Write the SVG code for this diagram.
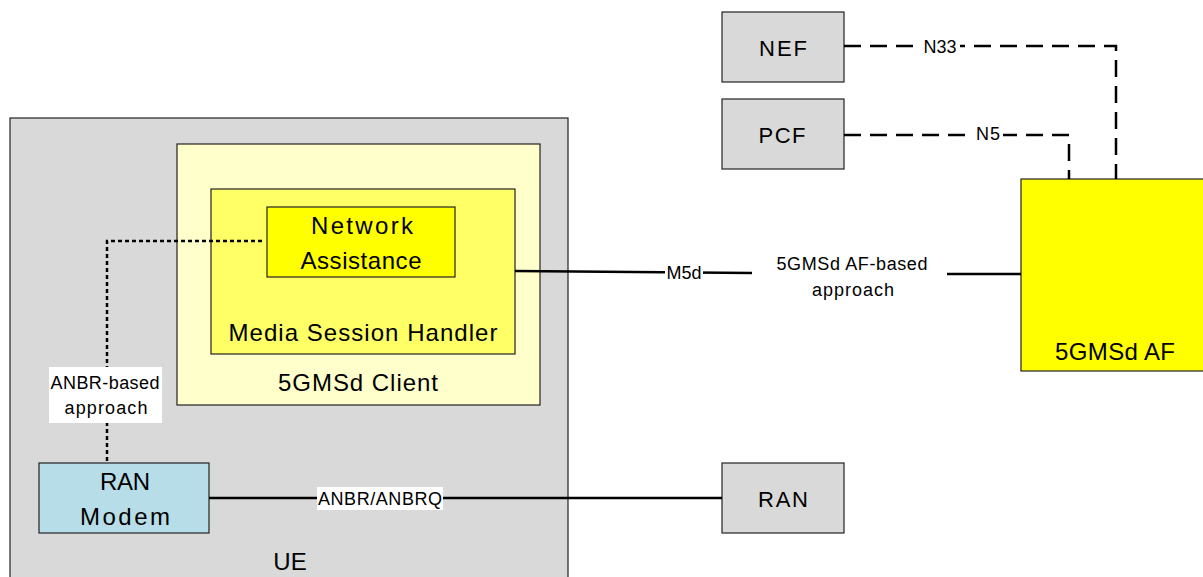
<svg xmlns="http://www.w3.org/2000/svg" width="1203" height="577" viewBox="0 0 1203 577">
<style>
.box{stroke:#222;stroke-width:1.2}
.grey{fill:#d9d9d9}
.t{font-family:"Liberation Sans",Arial,sans-serif;fill:#000;text-anchor:middle}
.big{font-size:24px}
.mid{font-size:22px}
.sm{font-size:18px}
.solid{fill:none;stroke:#000;stroke-width:2.5}
.dash{fill:none;stroke:#000;stroke-width:2.5;stroke-dasharray:17 9}
.dot{fill:none;stroke:#000;stroke-width:2.5;stroke-dasharray:4 3}
</style>
<rect width="1203" height="577" fill="#fff"/>
<g id="UE">
<rect class="box grey" x="10" y="118" width="558" height="470"/>
<text class="t big" x="290" y="570">UE</text>
</g>
<g id="client">
<rect class="box" fill="#ffffcc" x="177" y="144" width="363" height="261"/>
<text class="t big" x="358" y="391" textLength="160" lengthAdjust="spacing">5GMSd Client</text>
</g>
<g id="msh">
<rect class="box" fill="#ffff66" x="211" y="189" width="304" height="165"/>
<text class="t big" x="363" y="341" textLength="269" lengthAdjust="spacing">Media Session Handler</text>
</g>
<g id="na">
<rect class="box" fill="#ffff00" x="267" y="207" width="188" height="70"/>
<text class="t big" x="362" y="234" textLength="102" lengthAdjust="spacing">Network</text>
<text class="t big" x="361" y="269" textLength="121" lengthAdjust="spacing">Assistance</text>
</g>
<g id="ranmodem">
<rect class="box" fill="#b7dde8" x="39" y="463" width="170" height="70"/>
<text class="t big" x="125" y="490" textLength="50" lengthAdjust="spacing">RAN</text>
<text class="t big" x="125" y="525" textLength="90" lengthAdjust="spacing">Modem</text>
</g>
<g id="nef">
<rect class="box grey" x="722" y="12" width="122" height="70"/>
<text class="t mid" x="783" y="56" textLength="48" lengthAdjust="spacing">NEF</text>
</g>
<g id="pcf">
<rect class="box grey" x="722" y="99" width="122" height="70"/>
<text class="t mid" x="782" y="143" textLength="47" lengthAdjust="spacing">PCF</text>
</g>
<g id="ran">
<rect class="box grey" x="722" y="463" width="122" height="70"/>
<text class="t mid" x="783" y="507" textLength="50" lengthAdjust="spacing">RAN</text>
</g>
<g id="af">
<rect class="box" fill="#ffff00" x="1021" y="179" width="190" height="192"/>
<text class="t big" x="1115" y="360" textLength="120" lengthAdjust="spacing">5GMSd AF</text>
</g>
<g id="connectors">
<path class="dash" d="M844,46 H1116 V179"/>
<path class="dash" d="M844,135 H1069 V179"/>
<path class="dot" d="M262,241 H107 V463"/>
<path class="solid" d="M209,498 H722"/>
<path class="solid" d="M515,271 L752,273"/>
<path class="solid" d="M947,274 H1021"/>
<rect x="922" y="37" width="38" height="18" fill="#fff"/>
<text class="t sm" x="940" y="53" textLength="33" lengthAdjust="spacing">N33</text>
<rect x="973" y="124" width="30" height="18" fill="#fff"/>
<text class="t sm" x="988" y="140" textLength="24" lengthAdjust="spacing">N5</text>
<rect x="665" y="262" width="38" height="20" fill="#fff"/>
<text class="t sm" x="684" y="279">M5d</text>
<text class="t sm" x="852" y="270" textLength="151" lengthAdjust="spacing">5GMSd AF-based</text>
<text class="t sm" x="853" y="296" textLength="82" lengthAdjust="spacing">approach</text>
<rect x="49" y="367" width="113" height="56" fill="#fff"/>
<text class="t sm" x="105" y="389" textLength="109" lengthAdjust="spacing">ANBR-based</text>
<text class="t sm" x="106" y="414" textLength="83" lengthAdjust="spacing">approach</text>
<rect x="317" y="487" width="126" height="23" fill="#fff"/>
<text class="t sm" x="380" y="505" textLength="124" lengthAdjust="spacing">ANBR/ANBRQ</text>
</g>
</svg>
